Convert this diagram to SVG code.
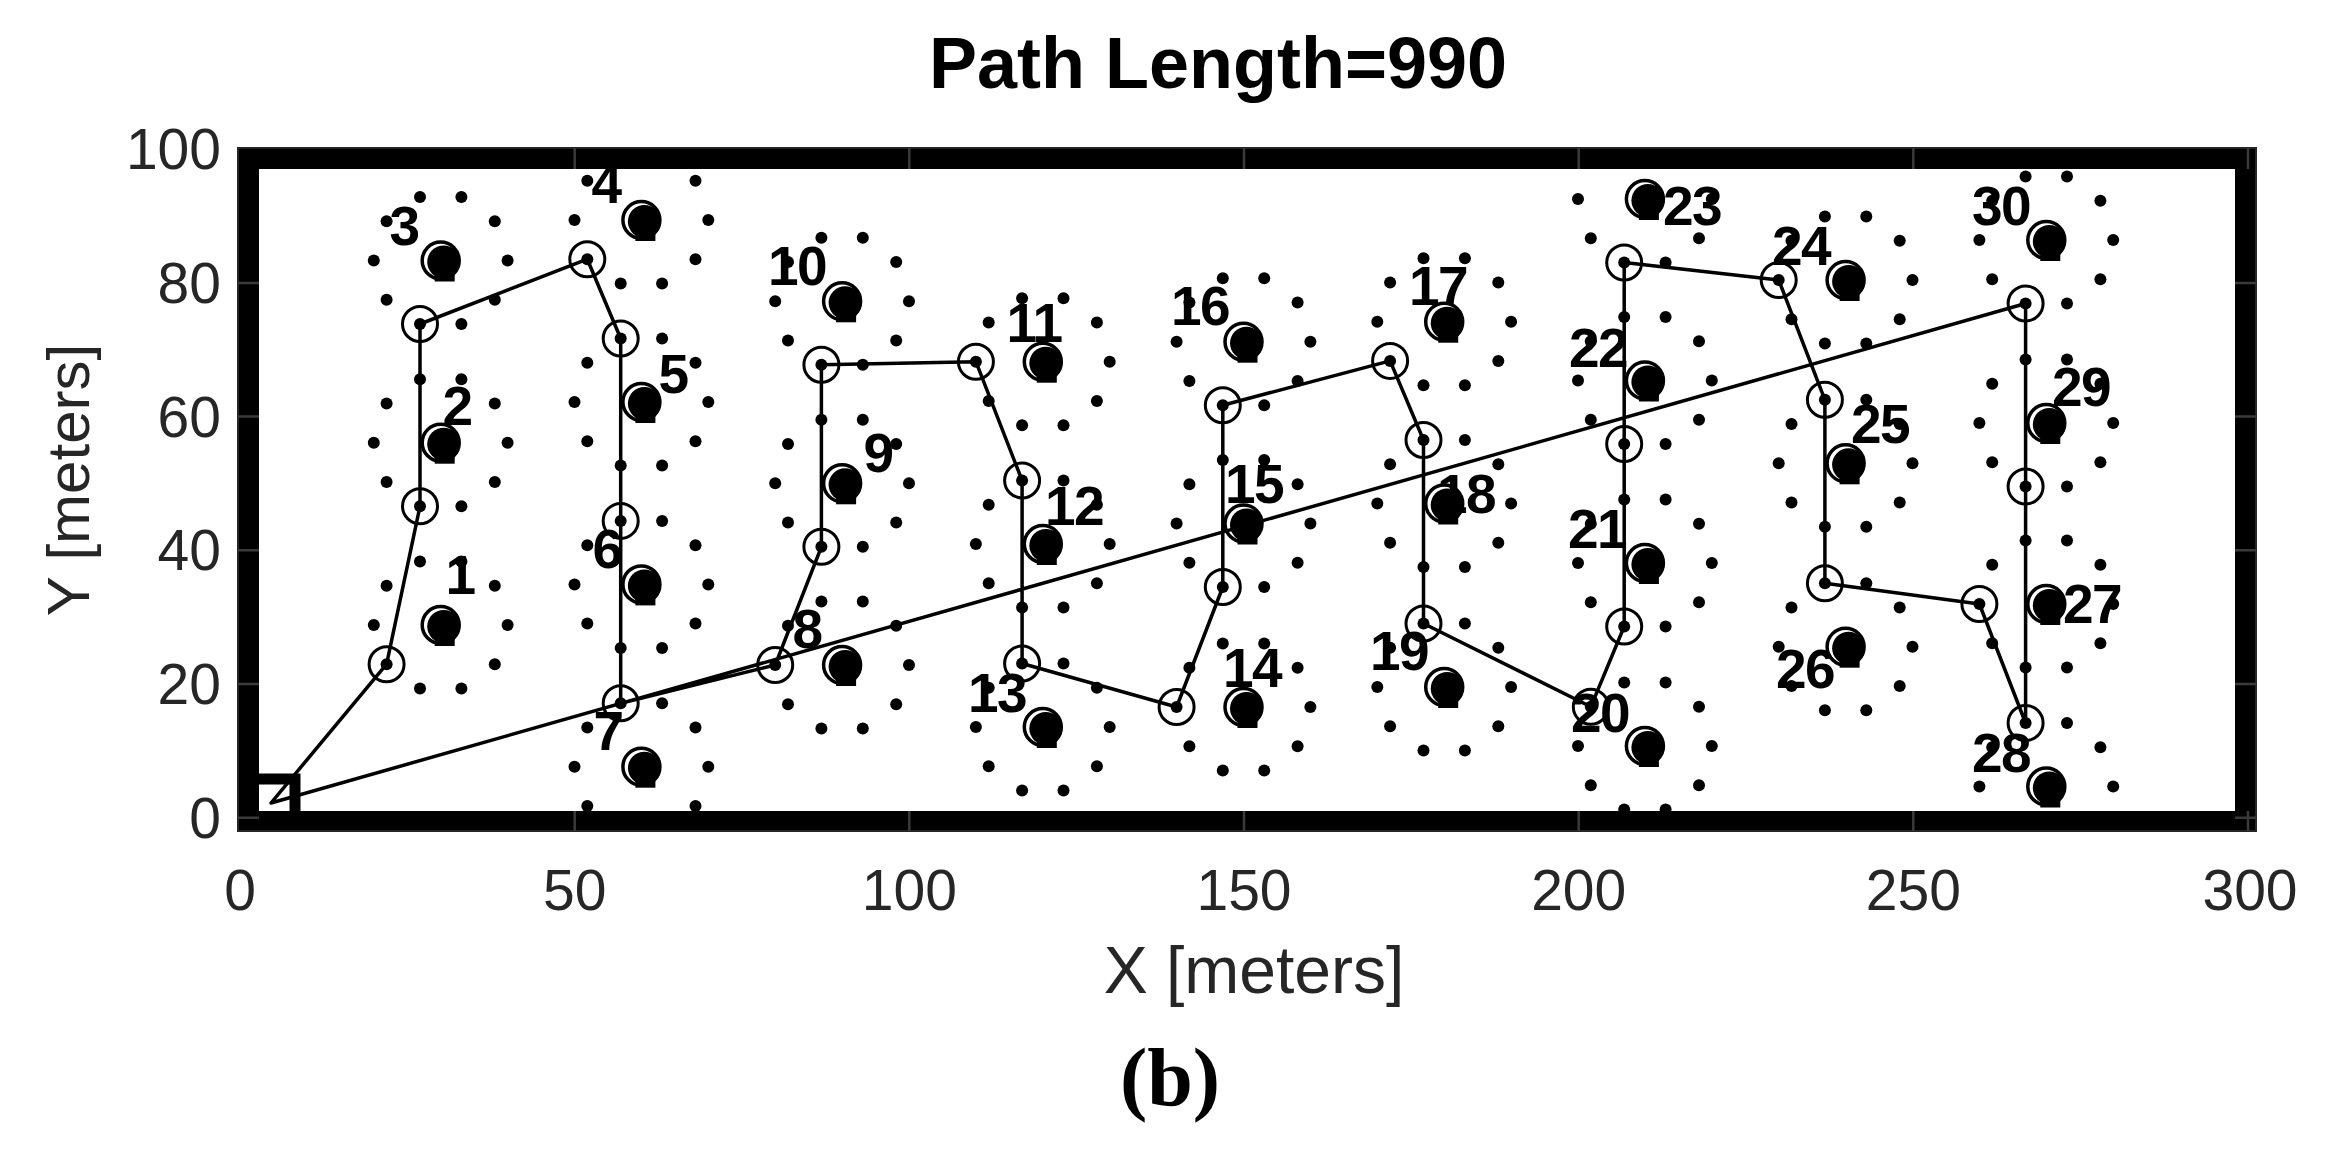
<svg xmlns="http://www.w3.org/2000/svg" width="2335" height="1157" viewBox="0 0 2335 1157">
<style>
.lbl{font-family:"Liberation Sans",Arial,sans-serif;font-weight:bold;font-size:55px;letter-spacing:-1.5px;fill:#000;text-anchor:middle}
.tk{font-family:"Liberation Sans",Arial,sans-serif;font-size:57px;fill:#262626}
.route{fill:none;stroke:#000;stroke-width:3.5;stroke-linejoin:round}
.wp{fill:none;stroke:#000;stroke-width:3}
.tick{stroke:#3a3a3a;stroke-width:2.5;fill:none}
</style>
<defs>
<clipPath id="ax"><rect x="238" y="148" width="2018" height="683"/></clipPath>
<g id="ring">
<circle cx="66.9" cy="0" r="6"/><circle cx="54.1" cy="-39.2" r="6"/><circle cx="20.7" cy="-63.5" r="6"/><circle cx="-20.7" cy="-63.5" r="6"/><circle cx="-54.1" cy="-39.2" r="6"/><circle cx="-66.9" cy="0" r="6"/><circle cx="-54.1" cy="39.2" r="6"/><circle cx="-20.7" cy="63.5" r="6"/><circle cx="20.7" cy="63.5" r="6"/><circle cx="54.1" cy="39.2" r="6"/>
</g>
<g id="tgt">
<circle cx="3" cy="1.5" r="16.5" fill="#000"/>
<rect x="-6" y="0" width="20" height="21" fill="#000"/>
<circle r="18.5" fill="none" stroke="#000" stroke-width="3.5"/>
</g>
<circle id="wpc" r="17.5" class="wp"/>
</defs>

<text x="1218" y="88" font-family="'Liberation Sans',Arial,sans-serif" font-weight="bold" font-size="72" text-anchor="middle" fill="#000">Path Length=990</text>

<g clip-path="url(#ax)">
<g id="targets">
<g id="target-1"><use href="#ring" x="440.7" y="625"/><use href="#tgt" x="440.7" y="625"/><text class="lbl" x="460" y="594">1</text></g>
<g id="target-2"><use href="#ring" x="440.7" y="442.7"/><use href="#tgt" x="440.7" y="442.7"/><text class="lbl" x="457" y="425">2</text></g>
<g id="target-3"><use href="#ring" x="440.7" y="260.5"/><use href="#tgt" x="440.7" y="260.5"/><text class="lbl" x="404" y="245">3</text></g>
<g id="target-4"><use href="#ring" x="641.4" y="220"/><use href="#tgt" x="641.4" y="220"/><text class="lbl" x="606" y="203">4</text></g>
<g id="target-5"><use href="#ring" x="641.4" y="402"/><use href="#tgt" x="641.4" y="402"/><text class="lbl" x="673" y="393">5</text></g>
<g id="target-6"><use href="#ring" x="641.4" y="584.4"/><use href="#tgt" x="641.4" y="584.4"/><text class="lbl" x="607" y="568">6</text></g>
<g id="target-7"><use href="#ring" x="641.4" y="766.7"/><use href="#tgt" x="641.4" y="766.7"/><text class="lbl" x="608" y="750">7</text></g>
<g id="target-8"><use href="#ring" x="842.1" y="665"/><use href="#tgt" x="842.1" y="665"/><text class="lbl" x="807" y="648">8</text></g>
<g id="target-9"><use href="#ring" x="842.1" y="483.3"/><use href="#tgt" x="842.1" y="483.3"/><text class="lbl" x="878" y="472">9</text></g>
<g id="target-10"><use href="#ring" x="842.1" y="301.3"/><use href="#tgt" x="842.1" y="301.3"/><text class="lbl" x="797" y="285">10</text></g>
<g id="target-11"><use href="#ring" x="1042.8" y="361.7"/><use href="#tgt" x="1042.8" y="361.7"/><text class="lbl" x="1034" y="342">11</text></g>
<g id="target-12"><use href="#ring" x="1042.8" y="544"/><use href="#tgt" x="1042.8" y="544"/><text class="lbl" x="1074" y="525">12</text></g>
<g id="target-13"><use href="#ring" x="1042.8" y="727"/><use href="#tgt" x="1042.8" y="727"/><text class="lbl" x="997" y="712">13</text></g>
<g id="target-14"><use href="#ring" x="1243.5" y="707"/><use href="#tgt" x="1243.5" y="707"/><text class="lbl" x="1252" y="687">14</text></g>
<g id="target-15"><use href="#ring" x="1243.5" y="523.5"/><use href="#tgt" x="1243.5" y="523.5"/><text class="lbl" x="1254" y="503">15</text></g>
<g id="target-16"><use href="#ring" x="1243.5" y="341.7"/><use href="#tgt" x="1243.5" y="341.7"/><text class="lbl" x="1200" y="325">16</text></g>
<g id="target-17"><use href="#ring" x="1444.2" y="321.7"/><use href="#tgt" x="1444.2" y="321.7"/><text class="lbl" x="1438" y="305">17</text></g>
<g id="target-18"><use href="#ring" x="1444.2" y="503.5"/><use href="#tgt" x="1444.2" y="503.5"/><text class="lbl" x="1466" y="513">18</text></g>
<g id="target-19"><use href="#ring" x="1444.2" y="687"/><use href="#tgt" x="1444.2" y="687"/><text class="lbl" x="1399" y="670">19</text></g>
<g id="target-20"><use href="#ring" x="1644.9" y="746"/><use href="#tgt" x="1644.9" y="746"/><text class="lbl" x="1600" y="732">20</text></g>
<g id="target-21"><use href="#ring" x="1644.9" y="563"/><use href="#tgt" x="1644.9" y="563"/><text class="lbl" x="1597" y="548">21</text></g>
<g id="target-22"><use href="#ring" x="1644.9" y="380.5"/><use href="#tgt" x="1644.9" y="380.5"/><text class="lbl" x="1598" y="367">22</text></g>
<g id="target-23"><use href="#ring" x="1644.9" y="199"/><use href="#tgt" x="1644.9" y="199"/><text class="lbl" x="1692" y="225">23</text></g>
<g id="target-24"><use href="#ring" x="1845.6" y="280"/><use href="#tgt" x="1845.6" y="280"/><text class="lbl" x="1801" y="265">24</text></g>
<g id="target-25"><use href="#ring" x="1845.6" y="463.3"/><use href="#tgt" x="1845.6" y="463.3"/><text class="lbl" x="1880" y="443">25</text></g>
<g id="target-26"><use href="#ring" x="1845.6" y="646.7"/><use href="#tgt" x="1845.6" y="646.7"/><text class="lbl" x="1805" y="688">26</text></g>
<g id="target-27"><use href="#ring" x="2046.3" y="604"/><use href="#tgt" x="2046.3" y="604"/><text class="lbl" x="2092" y="623">27</text></g>
<g id="target-28"><use href="#ring" x="2046.3" y="786.5"/><use href="#tgt" x="2046.3" y="786.5"/><text class="lbl" x="2001" y="772">28</text></g>
<g id="target-29"><use href="#ring" x="2046.3" y="423"/><use href="#tgt" x="2046.3" y="423"/><text class="lbl" x="2081" y="406">29</text></g>
<g id="target-30"><use href="#ring" x="2046.3" y="240"/><use href="#tgt" x="2046.3" y="240"/><text class="lbl" x="2001" y="225">30</text></g>
</g>

<g id="connectors">
<path class="route" d="M271,803 L386.6,664.2 L420,506.2 L420,324 L587.3,259.2 L620.7,338.5 L620.7,520.9 L620.7,703.2 L775.2,665 L821.4,546.8 L821.4,364.8 L975.9,361.7 L1022.1,480.5 L1022.1,663.5 L1176.6,707 L1222.8,587 L1222.8,405.2 L1390.1,360.9 L1423.5,440 L1423.5,623.5 L1590.8,706.8 L1624.2,626.5 L1624.2,444 L1624.2,262.5 L1778.7,280 L1824.9,399.8 L1824.9,583.2 L1979.4,604 L2025.6,723 L2025.6,486.5 L2025.6,303.5 Z"/>
</g>

<g id="waypoints">
<use href="#wpc" x="386.6" y="664.2"/><use href="#wpc" x="420" y="506.2"/><use href="#wpc" x="420" y="324"/><use href="#wpc" x="587.3" y="259.2"/><use href="#wpc" x="620.7" y="338.5"/><use href="#wpc" x="620.7" y="520.9"/><use href="#wpc" x="620.7" y="703.2"/><use href="#wpc" x="775.2" y="665"/><use href="#wpc" x="821.4" y="546.8"/><use href="#wpc" x="821.4" y="364.8"/><use href="#wpc" x="975.9" y="361.7"/><use href="#wpc" x="1022.1" y="480.5"/><use href="#wpc" x="1022.1" y="663.5"/><use href="#wpc" x="1176.6" y="707"/><use href="#wpc" x="1222.8" y="587"/><use href="#wpc" x="1222.8" y="405.2"/><use href="#wpc" x="1390.1" y="360.9"/><use href="#wpc" x="1423.5" y="440"/><use href="#wpc" x="1423.5" y="623.5"/><use href="#wpc" x="1590.8" y="706.8"/><use href="#wpc" x="1624.2" y="626.5"/><use href="#wpc" x="1624.2" y="444"/><use href="#wpc" x="1624.2" y="262.5"/><use href="#wpc" x="1778.7" y="280"/><use href="#wpc" x="1824.9" y="399.8"/><use href="#wpc" x="1824.9" y="583.2"/><use href="#wpc" x="1979.4" y="604"/><use href="#wpc" x="2025.6" y="723"/><use href="#wpc" x="2025.6" y="486.5"/><use href="#wpc" x="2025.6" y="303.5"/>
</g>

<g id="start"><rect x="247" y="779" width="48" height="48" fill="none" stroke="#000" stroke-width="11"/></g>
</g>

<g id="frame">
<path d="M238,148 H2256 V831 H238 Z M259,169 V811 H2235 V169 Z" fill="#000" fill-rule="evenodd"/>
<rect x="238" y="148" width="2018" height="683" fill="none" stroke="#262626" stroke-width="2"/>
<path class="tick" d="M574.7,148 V169 M909.3,148 V169 M1244,148 V169 M1578.7,148 V169 M1913.3,148 V169 M2248,148 V169 M574.7,811 V831 M909.3,811 V831 M1244,811 V831 M1578.7,811 V831 M1913.3,811 V831 M2248,811 V831 M238,817.7 H259 M238,684 H259 M238,550.3 H259 M238,416.6 H259 M238,282.9 H259 M2235,817.7 H2256 M2235,684 H2256 M2235,550.3 H2256 M2235,416.6 H2256 M2235,282.9 H2256"/>
</g>

<g id="yticks" class="tk" text-anchor="end">
<text x="221" y="169">100</text><text x="221" y="303">80</text><text x="221" y="437">60</text><text x="221" y="570">40</text><text x="221" y="704">20</text><text x="221" y="838">0</text>
</g>
<g id="xticks" class="tk" text-anchor="middle">
<text x="240" y="910">0</text><text x="574.7" y="910">50</text><text x="909.3" y="910">100</text><text x="1244" y="910">150</text><text x="1578.7" y="910">200</text><text x="1913.3" y="910">250</text><text x="2250" y="910">300</text>
</g>

<text x="1254" y="993" font-family="'Liberation Sans',Arial,sans-serif" font-size="66" text-anchor="middle" fill="#262626">X [meters]</text>
<text transform="translate(89,480) rotate(-90)" font-family="'Liberation Sans',Arial,sans-serif" font-size="60" text-anchor="middle" fill="#262626">Y [meters]</text>
<text x="1170" y="1105" font-family="'Liberation Serif','Times New Roman',serif" font-weight="bold" font-size="82" text-anchor="middle" fill="#000">(b)</text>
</svg>
